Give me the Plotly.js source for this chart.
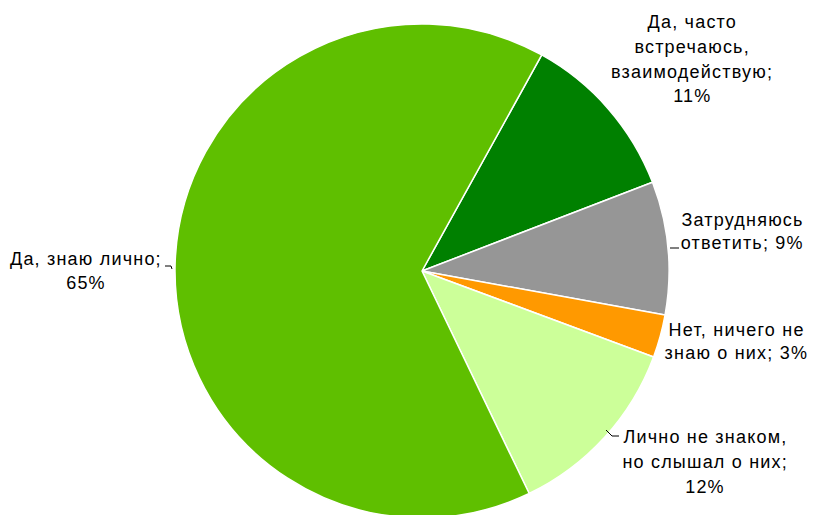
<!DOCTYPE html>
<html>
<head>
<meta charset="utf-8">
<script src="https://cdn.plot.ly/plotly-3.0.1.min.js"></script>
<style>
html, body { margin:0; padding:0; overflow:hidden; background:#fff; }
#chart { width:813px; height:520px; }
#chart .annotation-text { letter-spacing: 1.2px; }
</style>
</head>
<body>
<div id="chart"></div>
<script>
// Data
const categories = [
  "Да, часто<br>встречаюсь,<br>взаимодействую",
  "Затрудняюсь<br>ответить",
  "Нет, ничего не<br>знаю о них",
  "Лично не знаком,<br>но слышал о них",
  "Да, знаю лично"
];
const values = [11.1, 8.7, 2.8, 12.2, 65.2];
const pctLabels = ["11%", "9%", "3%", "12%", "65%"];
const colors = ["#008000", "#969696", "#FF9900", "#CCFF99", "#5FBF00"];

// Label layout (pixel positions of each line's center) — style/positioning only
const W = 813, H = 520, ml = 175, mb = 2, side = 494;
const px = x => (x - ml) / side;
const py = y => (H - mb - y) / side;

function splitLines(i) {
  const parts = categories[i].split("<br>");
  parts[parts.length - 1] += "; " + pctLabels[i];
  return parts;
}
const labelLines = [
  ["Да, часто", "встречаюсь,", "взаимодействую;", pctLabels[0]],
  splitLines(1),
  splitLines(2),
  ["Лично не знаком,", "но слышал о них;", pctLabels[3]],
  ["Да, знаю лично;", pctLabels[4]]
];
const labelPos = [
  {x: 692, ys: [22, 47, 72, 96]},
  {x: 742, ys: [220, 243]},
  {x: 736, ys: [330, 353]},
  {x: 705, ys: [437, 462, 487]},
  {x: 86,  ys: [259, 283]}
];

const annotations = [];
labelLines.forEach((lines, i) => {
  lines.forEach((t, j) => {
    annotations.push({
      text: t, xref: "paper", yref: "paper",
      x: px(labelPos[i].x), y: py(labelPos[i].ys[j]),
      xanchor: "center", yanchor: "middle", showarrow: false,
      font: {family: "Liberation Sans, Arial, sans-serif", size: 18, color: "#000"}
    });
  });
});

const leaders = [
  [[165, 266], [171, 266], [172, 269]],
  [[670, 248], [679, 248]],
  [[606, 430], [612, 436], [619, 436]]
];
const shapes = [];
leaders.forEach(pts => {
  for (let k = 0; k < pts.length - 1; k++) {
    shapes.push({type: "line", xref: "paper", yref: "paper",
      x0: px(pts[k][0]), y0: py(pts[k][1]), x1: px(pts[k+1][0]), y1: py(pts[k+1][1]),
      line: {color: "#000", width: 1}});
  }
});

const trace = {
  type: "pie",
  labels: categories,
  values: values,
  sort: false,
  direction: "clockwise",
  rotation: 29,
  textinfo: "none",
  hoverinfo: "none",
  marker: {colors: colors, line: {color: "#ffffff", width: 1.5}},
  showlegend: false
};

const layout = {
  width: W, height: H,
  margin: {l: ml, r: W - ml - side, t: H - mb - side, b: mb, pad: 0},
  paper_bgcolor: "#ffffff",
  showlegend: false,
  annotations: annotations,
  shapes: shapes
};

Plotly.newPlot("chart", [trace], layout, {staticPlot: true, displayModeBar: false});
</script>
</body>
</html>
